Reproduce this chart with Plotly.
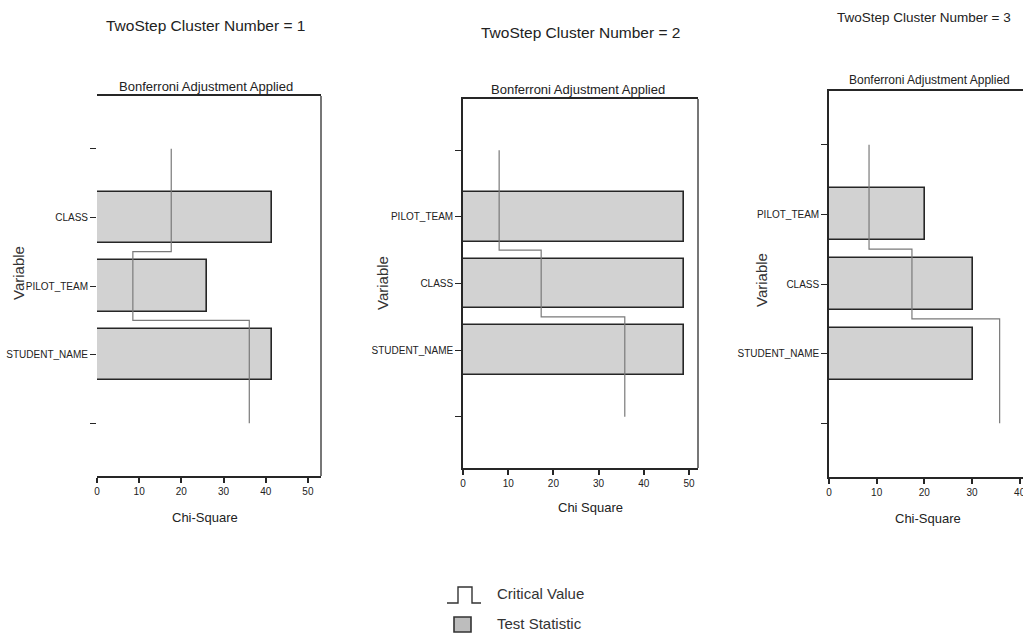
import plotly.graph_objects as go

# ---- data -------------------------------------------------------------
cluster_titles = ["TwoStep Cluster Number = 1",
                  "TwoStep Cluster Number = 2",
                  "TwoStep Cluster Number = 3"]
subtitle = "Bonferroni Adjustment Applied"
x_titles = ["Chi-Square", "Chi Square", "Chi-Square"]
y_title = "Variable"

c1_vars = ["CLASS", "PILOT_TEAM", "STUDENT_NAME"]
c1_stat = [41.5, 26.0, 41.5]
c1_crit = [17.6, 8.5, 36.1]

c2_vars = ["PILOT_TEAM", "CLASS", "STUDENT_NAME"]
c2_stat = [49.0, 49.0, 49.0]
c2_crit = [8.0, 17.3, 35.8]

c3_vars = ["PILOT_TEAM", "CLASS", "STUDENT_NAME"]
c3_stat = [20.1, 30.2, 30.2]
c3_crit = [8.4, 17.4, 35.8]

x_ticks = [0, 10, 20, 30, 40, 50]
legend_labels = ["Critical Value", "Test Statistic"]

# ---- page geometry (pixels) ------------------------------------------
W, H = 1023, 635
FONT = "Liberation Sans, Arial, sans-serif"
BAR_FILL = "#d2d2d2"
EDGE = "#262626"
CRIT_LINE = "#7a7a7a"

panels = [
    dict(box=(97, 321, 96, 476), xmax=53.1, left_line=False, right_line=True,
         title_xy=(205, 25), sub_xy=(206, 86), xt_xy=(205, 517), yt_xy=(18, 273),
         title_size=15.5, sub_size=13),
    dict(box=(463, 698, 99, 468), xmax=52.0, left_line=True, right_line=True,
         title_xy=(580, 32), sub_xy=(578, 89), xt_xy=(590, 507), yt_xy=(382, 283),
         title_size=15.5, sub_size=13),
    dict(box=(829, 1023, 91, 477), xmax=40.7, left_line=True, right_line=False,
         title_xy=(835, 17), sub_xy=(847, 80), xt_xy=(928, 518), yt_xy=(761, 280),
         title_size=13.5, sub_size=12),
]
series = [(c1_vars, c1_stat, c1_crit),
          (c2_vars, c2_stat, c2_crit),
          (c3_vars, c3_stat, c3_crit)]


def px(x):
    return x / W


def py(y):
    return 1 - y / H


fig = go.Figure()
annotations = []
shapes = []

for i, (panel, (names, stat, crit)) in enumerate(zip(panels, series)):
    n = i + 1
    xa = "x" if n == 1 else f"x{n}"
    ya = "y" if n == 1 else f"y{n}"
    x0, x1, y0, y1 = panel["box"]

    # category slots: an empty slot above and below the variables
    slots = [""] + names + [""]
    ypos = list(range(1, len(names) + 1))

    fig.add_trace(go.Bar(
        x=stat, y=ypos, orientation="h", width=0.75,
        marker=dict(color=BAR_FILL, line=dict(color=EDGE, width=1.6)),
        xaxis=xa, yaxis=ya, showlegend=False, hoverinfo="x+text",
        hovertext=names,
    ))

    # critical value drawn as a step line spanning each variable's slot
    bounds = [0] + [p + 0.5 for p in ypos[:-1]] + [len(slots) - 1]
    sx, sy = [], []
    for k, c in enumerate(crit):
        sx += [c, c]
        sy += [bounds[k], bounds[k + 1]]
    fig.add_trace(go.Scatter(
        x=sx, y=sy, mode="lines", line=dict(color=CRIT_LINE, width=1.2),
        xaxis=xa, yaxis=ya, showlegend=False, hoverinfo="skip",
    ))

    fig.layout[f"xaxis{'' if n == 1 else n}"] = dict(
        domain=[px(x0), px(x1)], anchor=ya, range=[0, panel["xmax"]],
        tickvals=x_ticks, ticks="outside", ticklen=5, tickwidth=1.5,
        tickcolor=EDGE, showline=True, linecolor=EDGE, linewidth=1.6,
        mirror=True, showgrid=False, zeroline=False, automargin=False,
        ticklabeloverflow="allow",
        tickfont=dict(family=FONT, size=10, color="#222"),
    )
    fig.layout[f"yaxis{'' if n == 1 else n}"] = dict(
        domain=[py(y1), py(y0)], anchor=xa,
        range=[len(slots) - 1 + 0.77, -0.77],
        tickvals=list(range(len(slots))), ticktext=slots,
        ticks="outside", ticklen=6, tickwidth=1.3, tickcolor=EDGE,
        showline=panel["left_line"], linecolor=EDGE, linewidth=1.6,
        mirror=False, showgrid=False, zeroline=False, automargin=False,
        tickfont=dict(family=FONT, size=10, color="#222"),
    )
    if panel["right_line"]:
        shapes.append(dict(type="line", xref=f"{xa} domain", yref=f"{ya} domain",
                           x0=1, x1=1, y0=0, y1=1,
                           line=dict(color="#555", width=1.6)))

    tx, ty = panel["title_xy"]
    annotations.append(dict(
        text=cluster_titles[i], x=px(tx), y=py(ty), xref="paper", yref="paper",
        xanchor="left" if n == 3 else "center", yanchor="middle",
        showarrow=False,
        font=dict(family=FONT, size=panel["title_size"], color="#222")))
    sx_, sy_ = panel["sub_xy"]
    annotations.append(dict(
        text=subtitle, x=px(sx_), y=py(sy_), xref="paper", yref="paper",
        xanchor="left" if n == 3 else "center", yanchor="middle",
        showarrow=False,
        font=dict(family=FONT, size=panel["sub_size"], color="#222")))
    xx, xy = panel["xt_xy"]
    annotations.append(dict(
        text=x_titles[i], x=px(xx), y=py(xy), xref="paper", yref="paper",
        xanchor="center", yanchor="middle", showarrow=False,
        font=dict(family=FONT, size=13, color="#222")))
    yx, yy = panel["yt_xy"]
    annotations.append(dict(
        text=y_title, x=px(yx), y=py(yy), xref="paper", yref="paper",
        xanchor="center", yanchor="middle", textangle=-90, showarrow=False,
        font=dict(family=FONT, size=15, color="#333")))

# ---- legend --------------------------------------------------------------
step_pts = [(447, 603), (458, 603), (458, 587), (472, 587), (472, 603), (481, 603)]
path = "M " + " L ".join(f"{px(a):.5f},{py(b):.5f}" for a, b in step_pts)
shapes.append(dict(type="path", xref="paper", yref="paper", path=path,
                   line=dict(color="#333", width=1.4)))
shapes.append(dict(type="rect", xref="paper", yref="paper",
                   x0=px(454), x1=px(471), y0=py(632), y1=py(617),
                   fillcolor="#bdbdbd", line=dict(color="#333", width=1.6)))
for label, ly in zip(legend_labels, [593, 623]):
    annotations.append(dict(
        text=label, x=px(495), y=py(ly), xref="paper", yref="paper",
        xanchor="left", yanchor="middle", showarrow=False,
        font=dict(family=FONT, size=15, color="#333")))

fig.update_layout(
    width=W, height=H, margin=dict(l=0, r=0, t=0, b=0),
    paper_bgcolor="white", plot_bgcolor="white",
    annotations=annotations, shapes=shapes, showlegend=False,
    bargap=0,
)

fig.write_html("out.html")
